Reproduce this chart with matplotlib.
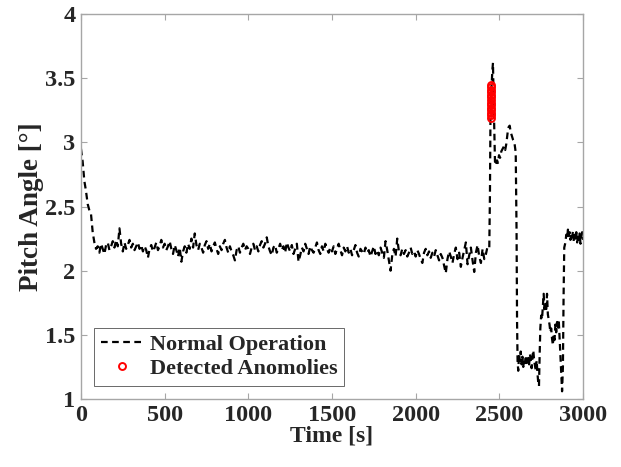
import numpy as np
import matplotlib.pyplot as plt

# pitch angle, sampled every 10 s from 0 to 2430 s
time_steady = np.arange(0, 2440, 10)
pitch_steady = [
    2.95, 2.85, 2.70, 2.62, 2.52, 2.47, 2.44, 2.30, 2.22, 2.17,
    2.19, 2.14, 2.21, 2.17, 2.13, 2.20, 2.22, 2.16, 2.19, 2.23,
    2.18, 2.24, 2.19, 2.33, 2.21, 2.15, 2.22, 2.17, 2.20, 2.24,
    2.18, 2.21, 2.16, 2.19, 2.22, 2.17, 2.20, 2.15, 2.19, 2.16,
    2.10, 2.17, 2.20, 2.15, 2.18, 2.22, 2.16, 2.19, 2.24, 2.18,
    2.21, 2.16, 2.19, 2.23, 2.17, 2.13, 2.20, 2.16, 2.11, 2.18,
    2.07, 2.15, 2.19, 2.14, 2.21, 2.17, 2.25, 2.18, 2.29, 2.20,
    2.16, 2.21, 2.18, 2.14, 2.20, 2.23, 2.17, 2.21, 2.15, 2.19,
    2.22, 2.17, 2.13, 2.19, 2.16, 2.21, 2.24, 2.18, 2.14, 2.19,
    2.15, 2.12, 2.08, 2.16, 2.19, 2.14, 2.18, 2.21, 2.16, 2.19,
    2.17, 2.13, 2.18, 2.21, 2.16, 2.19, 2.15, 2.20, 2.23, 2.18,
    2.21, 2.26, 2.19, 2.15, 2.12, 2.18, 2.20, 2.14, 2.17, 2.21,
    2.16, 2.19, 2.14, 2.22, 2.18, 2.15, 2.20, 2.13, 2.17, 2.21,
    2.07, 2.12, 2.18, 2.15, 2.21, 2.17, 2.13, 2.19, 2.16, 2.14,
    2.18, 2.22, 2.16, 2.13, 2.19, 2.15, 2.21, 2.17, 2.14, 2.18,
    2.15, 2.19, 2.13, 2.17, 2.21, 2.16, 2.12, 2.18, 2.15, 2.19,
    2.14, 2.17, 2.12, 2.16, 2.20, 2.14, 2.11, 2.17, 2.15, 2.13,
    2.18, 2.14, 2.16, 2.11, 2.15, 2.19, 2.13, 2.16, 2.12, 2.18,
    2.14, 2.10, 2.23, 2.16, 2.08, 2.00, 2.12, 2.17, 2.11, 2.25,
    2.15, 2.12, 2.17, 2.13, 2.16, 2.11, 2.14, 2.18, 2.13, 2.15,
    2.11, 2.16, 2.13, 2.09, 2.06, 2.14, 2.17, 2.12, 2.15, 2.10,
    2.14, 2.11, 2.16, 2.12, 2.08, 2.13, 2.10, 2.04, 1.98, 2.09,
    2.15, 2.11, 2.06, 2.13, 2.18, 2.09, 2.14, 2.03, 2.10, 2.16,
    2.22, 2.05, 2.12, 2.18, 2.08, 1.99, 2.14, 2.20, 2.11, 2.06,
    2.17, 2.09, 2.13, 2.19,
]

# event part, read at a finer step
time_event = [
    2440, 2444, 2447, 2452, 2458, 2462, 2465, 2470, 2474, 2480,
    2486, 2492, 2498, 2505, 2512, 2520, 2528, 2535, 2542, 2550,
    2556, 2562, 2568, 2575, 2582, 2590, 2598, 2603, 2606, 2609,
    2613, 2618, 2623, 2628, 2633, 2638, 2643, 2648, 2653, 2658,
    2663, 2668, 2673, 2678, 2683, 2688, 2693, 2698, 2703, 2708,
    2713, 2718, 2723, 2728, 2733, 2737, 2741, 2745, 2750, 2755,
    2760, 2765, 2770, 2775, 2780, 2785, 2790, 2795, 2800, 2805,
    2810, 2815, 2820, 2825, 2830, 2835, 2840, 2845, 2850, 2855,
    2860, 2865, 2870, 2875, 2880, 2884, 2888, 2895, 2900, 2905,
    2910, 2915, 2920, 2925, 2930, 2935, 2940, 2945, 2950, 2955,
    2960, 2965, 2970, 2975, 2980, 2985, 2990, 2995, 3000,
]
pitch_event = [
    2.18, 2.60, 3.19, 3.40, 3.55, 3.62, 3.40, 3.10, 2.85, 2.82,
    2.86, 2.84, 2.90, 2.88, 2.93, 2.95, 2.97, 2.94, 2.99, 3.08,
    3.12, 3.13, 3.08, 3.05, 3.02, 3.00, 2.92, 2.30, 1.60, 1.30,
    1.22, 1.35, 1.30, 1.37, 1.27, 1.33, 1.25, 1.31, 1.28, 1.34,
    1.29, 1.26, 1.32, 1.27, 1.35, 1.30, 1.24, 1.33, 1.38, 1.30,
    1.26, 1.22, 1.30, 1.20, 1.12, 1.10, 1.35, 1.55, 1.65, 1.62,
    1.72, 1.82, 1.70, 1.75, 1.68, 1.82, 1.66, 1.62, 1.58, 1.52,
    1.55, 1.47, 1.42, 1.50, 1.46, 1.58, 1.52, 1.60, 1.54, 1.62,
    1.48, 1.35, 1.20, 1.06, 1.25, 1.80, 2.18, 2.22, 2.28, 2.25,
    2.32, 2.27, 2.30, 2.24, 2.29, 2.26, 2.31, 2.23, 2.28, 2.25,
    2.30, 2.22, 2.27, 2.24, 2.29, 2.21, 2.26, 2.30, 2.24,
]

# detected anomalies
anom_time = [2448, 2448, 2449, 2449, 2450, 2450, 2450, 2451, 2451, 2452, 2452, 2453, 2453, 2453]
anom_pitch = [3.19, 3.21, 3.23, 3.25, 3.27, 3.29, 3.31, 3.33, 3.35, 3.37, 3.39, 3.41, 3.43, 3.45]

time = np.concatenate([time_steady, time_event])
pitch = np.concatenate([pitch_steady, pitch_event])

plt.rcParams['font.family'] = ['Liberation Serif', 'DejaVu Serif']
plt.rcParams['font.weight'] = 'bold'

fig = plt.figure(figsize=(6.21, 4.67), dpi=100)
ax = fig.add_axes([0.1304, 0.1456, 0.8084, 0.8244])

ax.plot(time, pitch, color='black', linestyle=(0, (3, 2)), linewidth=1.6,
        label='Normal Operation')
ax.plot(anom_time, anom_pitch, 'o', color='red', markerfacecolor='none',
        markersize=5, markeredgewidth=1.4, linestyle='none',
        label='Detected Anomolies')

ax.set_xlim(0, 3000)
ax.set_ylim(1, 4)
ax.set_xticks(np.arange(0, 3001, 500))
ax.set_yticks(np.arange(1, 4.01, 0.5))
ax.set_yticklabels(['1', '1.5', '2', '2.5', '3', '3.5', '4'])

for s in ax.spines.values():
    s.set_color('#a6a6a6')
    s.set_linewidth(1.0)
ax.tick_params(direction='in', length=4, width=0.8, color='#a6a6a6',
               labelcolor='#262626', labelsize=17.5, top=True, right=True, pad=4)

ax.set_xlabel('Time [s]', fontsize=17, fontweight='bold', color='#262626', labelpad=0)
ax.set_ylabel('Pitch Angle [°]', fontsize=19.5, fontweight='bold', color='#262626', labelpad=1)

leg = ax.legend(loc='lower left', fontsize=16, frameon=True, fancybox=False,
                edgecolor='#262626', handlelength=1.9, borderpad=0.3,
                labelspacing=0.15, handletextpad=0.3, borderaxespad=0.6)
leg.get_frame().set_linewidth(0.6)
for t in leg.get_texts():
    t.set_color('#262626')

fig.savefig('out.png', dpi=100)
